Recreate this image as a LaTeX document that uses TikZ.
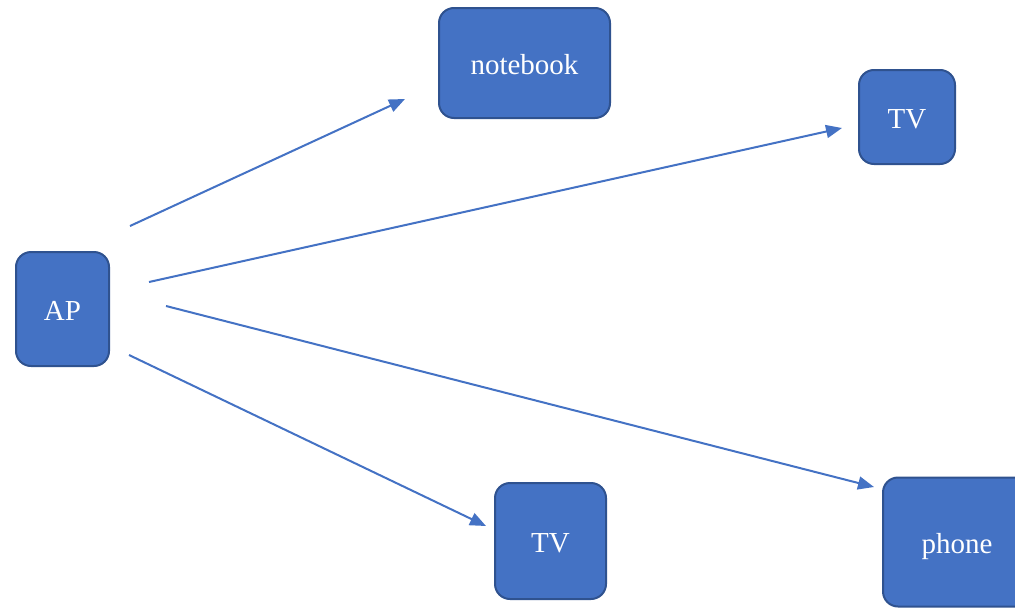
\documentclass[tikz,border=0pt]{standalone}
\usepackage{fontspec}
\setmainfont{Liberation Serif}
\usetikzlibrary{arrows.meta}
\definecolor{boxfill}{HTML}{4472C4}
\definecolor{boxline}{HTML}{2F528F}
\begin{document}
\begin{tikzpicture}[x=1pt,y=-1pt,
  box/.style={draw=boxline, fill=boxfill, line width=2pt, rounded corners=15pt,
    text=white, font=\fontsize{29}{34}\selectfont, inner sep=0pt, outer sep=0pt,
    text height=22pt, text depth=0pt},
  link/.style={draw=boxfill, line width=2pt, -{Triangle[length=16pt,width=13pt]}}]
\clip (0,0) rectangle (1015,608);
\node[box, minimum width=93pt, minimum height=114pt] (ap) at (62.5,309) {AP};
\node[box, minimum width=171pt, minimum height=110pt] (nb) at (524.5,63) {notebook};
\node[box, minimum width=96pt, minimum height=94pt] (tv1) at (907,117) {TV};
\node[box, minimum width=111pt, minimum height=116pt] (tv2) at (550.5,541) {TV};
\node[box, minimum width=148pt, minimum height=129pt] (ph) at (957,542) {phone};
\coordinate (s1) at (130,226);
\coordinate (e1) at (405,99);
\coordinate (s2) at (149,282);
\coordinate (e2) at (842,128);
\coordinate (s3) at (166,306);
\coordinate (e3) at (874,487);
\coordinate (s4) at (129,355);
\coordinate (e4) at (486,526);
\draw[link] (s1) -- (e1);
\draw[link] (s2) -- (e2);
\draw[link] (s3) -- (e3);
\draw[link] (s4) -- (e4);
\end{tikzpicture}
\end{document}
